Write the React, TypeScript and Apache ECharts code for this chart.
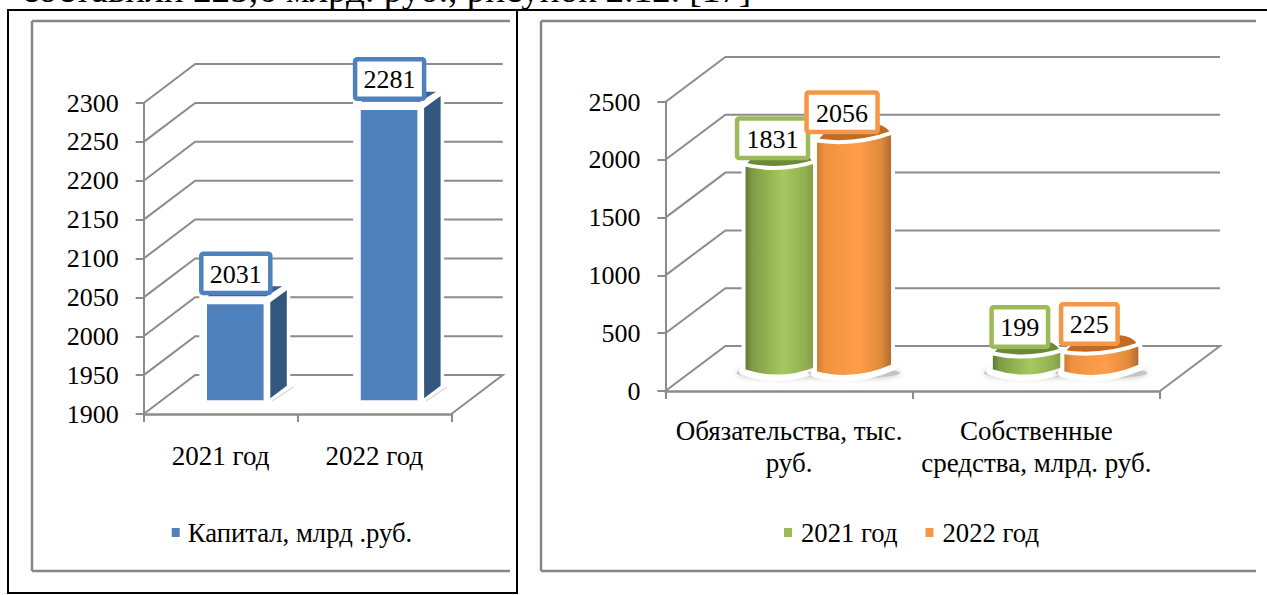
import React, { useEffect, useRef } from "react";
import * as echarts from "echarts";

const leftCategories = ["2021 год", "2022 год"];
const leftSeriesName = "Капитал, млрд .руб.";
const leftValues = [2031, 2281];
const leftTicks = [1900, 1950, 2000, 2050, 2100, 2150, 2200, 2250, 2300];

const rightCategories = ["Обязательства, тыс.\nруб.", "Собственные\nсредства, млрд. руб."];
const rightSeriesNames = ["2021 год", "2022 год"];
const rightValues2021 = [1831, 199];
const rightValues2022 = [2056, 225];
const rightTicks = [0, 500, 1000, 1500, 2000, 2500];

const pageText = "составили 225,6 млрд. руб., рисунок 2.12. [17]";

const FONT = '"Liberation Serif", "Times New Roman", serif';
const GRAY = "#868686";
const AXIS = "#8c8c8c";
const BLUE = "#4F81BD";
const GREEN = "#9BBB59";
const ORANGE = "#F79646";

function wallSeries(ticks: number[], gridIndex: number, dx: number, dy: number) {
  const min = Math.min(...ticks);
  return {
    type: "custom",
    name: "wall" + gridIndex,
    xAxisIndex: gridIndex,
    yAxisIndex: gridIndex,
    z: 1,
    silent: true,
    encode: { x: 0, y: 1 },
    data: ticks.map((t) => [0, t]),
    renderItem: (params: any, api: any) => {
      const v = api.value(1);
      const y = api.coord([0, v])[1];
      const x0 = params.coordSys.x;
      const x1 = x0 + params.coordSys.width;
      const pts: number[][] = [[x0, y], [x0 + dx, y + dy], [x1 + dx, y + dy]];
      if (v === min) pts.push([x1, y]);
      return {
        type: "polyline",
        shape: { points: pts },
        style: { stroke: AXIS, lineWidth: 2, fill: "none" },
      };
    },
  };
}

function boxLabel(cx: number, cy: number, w: number, h: number, text: string, color: string, z: number) {
  return [
    {
      type: "rect",
      z2: z,
      shape: { x: cx - w / 2 + 2, y: cy - h / 2 + 2, width: w - 4, height: h - 4, r: 2 },
      style: { fill: "#fff", stroke: color, lineWidth: 4.5 },
    },
    {
      type: "text",
      z2: z + 1,
      style: {
        text,
        x: cx,
        y: cy + 1,
        fill: "#000",
        fontSize: 26,
        fontFamily: FONT,
        align: "center",
        verticalAlign: "middle",
      },
    },
  ];
}

function prismSeries() {
  return {
    type: "custom",
    name: leftSeriesName,
    xAxisIndex: 0,
    yAxisIndex: 0,
    z: 3,
    itemStyle: { color: BLUE },
    encode: { x: 0, y: 1 },
    data: leftValues.map((v, i) => [i, v]),
    renderItem: (params: any, api: any) => {
      const i = api.value(0);
      const v = api.value(1);
      const [cx, yv] = api.coord([i, v]);
      const y0 = api.coord([i, leftTicks[0]])[1];
      const xc = cx + 14.7;
      const front = { x: xc - 28.3, y: yv - 7.8, width: 56.6, height: y0 - 13.7 - (yv - 7.8) };
      return {
        type: "group",
        children: [
          { type: "rect", shape: { x: xc - 36, y: yv - 18, width: 91, height: y0 - 10 - (yv - 18) }, style: { fill: "#fff" } },
          {
            type: "polygon",
            shape: { points: [[xc - 28, yv - 16], [xc + 31, yv - 16], [xc + 47, yv - 26], [xc - 12, yv - 26]] },
            style: { fill: "#376092" },
          },
          {
            type: "polygon",
            shape: { points: [[xc + 35, yv - 9.8], [xc + 51.5, yv - 21.8], [xc + 51.5, y0 - 28.3], [xc + 35, y0 - 15.7]] },
            style: { fill: "#34577F" },
          },
          { type: "rect", shape: front, style: { fill: BLUE } },
          {
            type: "line",
            shape: { x1: xc + 37, y1: y0 - 13, x2: xc + 58, y2: y0 - 27 },
            style: { stroke: "#d9d9d9", lineWidth: 1.5 },
          },
          ...boxLabel(cx + 15.2, yv - 38.8, 73, 43.4, String(v), BLUE, 10),
        ],
      };
    },
  };
}

function cylinderSeries(
  name: string,
  values: number[],
  color: string,
  offset: number,
  half: number,
  top: number[],
  bottom: number[],
  stops: string[],
  topColor: string,
  labelDx: number,
  labelZ: number
) {
  return {
    type: "custom",
    name,
    xAxisIndex: 1,
    yAxisIndex: 1,
    z: 3,
    itemStyle: { color },
    encode: { x: 0, y: 1 },
    data: values.map((v, i) => [i, v]),
    renderItem: (params: any, api: any) => {
      const i = api.value(0);
      const v = api.value(1);
      const [cx, yv] = api.coord([i, v]);
      const y0 = api.coord([i, 0])[1];
      const xc = cx + offset;
      const xl = xc - half;
      const xr = xc + half;
      const tL = yv + top[0];
      const tM = yv + top[1];
      const tR = yv + top[2];
      const bL = y0 + bottom[0];
      const bM = y0 + bottom[1];
      const bR = y0 + bottom[2];
      const ctrl = (a: number, m: number, b: number) => 2 * m - (a + b) / 2;
      const body =
        `M${xl - 2} ${tL - 1} Q${xc} ${ctrl(tL, tM, tR) - 2} ${xr + 2} ${tR - 1} ` +
        `L${xr + 2} ${bR + 1} Q${xc} ${ctrl(bL, bM, bR) + 2} ${xl - 2} ${bL + 1} Z`;
      const foot = `M${xl - 2} ${bL + 1} Q${xc} ${ctrl(bL, bM, bR) + 2} ${xr + 2} ${bR + 1}`;
      const cap =
        `M${xl} ${tL} C${xl + 6} ${tL - 20} ${xr - 6} ${tR - 20} ${xr} ${tR} ` +
        `Q${xc} ${ctrl(tL, tM, tR)} ${xl} ${tL} Z`;
      const fill = new echarts.graphic.LinearGradient(0, 0, 1, 0, [
        { offset: 0, color: stops[0] },
        { offset: 0.12, color: stops[1] },
        { offset: 0.55, color: stops[2] },
        { offset: 0.85, color: stops[3] },
        { offset: 1, color: stops[4] },
      ]);
      return {
        type: "group",
        children: [
          {
            type: "ellipse",
            shape: { cx: xc, cy: bM - 2, rx: half + 9, ry: 5 },
            style: { fill: "#c4c4c4", shadowBlur: 6, shadowColor: "#bdbdbd" },
          },
          {
            type: "path",
            shape: { pathData: foot },
            style: { fill: "none", stroke: "#fff", lineWidth: 9, lineCap: "round" },
          },
          { type: "path", shape: { pathData: cap }, style: { fill: topColor, stroke: "#fff", lineWidth: 2 } },
          {
            type: "path",
            shape: { pathData: body },
            style: { fill, stroke: "#fff", lineWidth: 4 },
          },
          ...boxLabel(
            xc + labelDx,
            yv - 41,
            String(v).length > 3 ? 75 : 60.5,
            43.5,
            String(v),
            color,
            labelZ
          ),
        ],
      };
    },
  };
}

function valueAxis(ticks: number[], gridIndex: number) {
  return {
    type: "value",
    gridIndex,
    min: ticks[0],
    max: ticks[ticks.length - 1],
    interval: ticks[1] - ticks[0],
    axisLine: { show: true, lineStyle: { color: AXIS, width: 2 } },
    axisTick: { show: true, length: 8, lineStyle: { color: AXIS, width: 2 } },
    splitLine: { show: false },
    axisLabel: {
      color: "#000",
      fontSize: 26,
      fontFamily: FONT,
      margin: 25,
      padding: [12, 0, 0, 0],
      formatter: (v: number) => String(v),
    },
  };
}

function categoryAxis(categories: string[], gridIndex: number, margin: number) {
  return {
    type: "category",
    gridIndex,
    data: categories,
    axisLine: { show: true, lineStyle: { color: AXIS, width: 2.5 } },
    axisTick: { show: true, length: 8, lineStyle: { color: AXIS, width: 2 } },
    axisLabel: {
      color: "#000",
      fontSize: 27,
      fontFamily: FONT,
      margin,
      lineHeight: 32,
      interval: 0,
    },
  };
}

function frameLine(x1: number, y1: number, x2: number, y2: number, stroke: string, lineWidth: number) {
  return { type: "line", silent: true, shape: { x1, y1, x2, y2 }, style: { stroke, lineWidth } };
}

export default function App() {
  const ref = useRef<HTMLDivElement>(null);
  useEffect(() => {
    const chart = echarts.init(ref.current!, null, { renderer: "svg" });
    chart.setOption({
      animation: false,
      backgroundColor: "#fff",
      grid: [
        { left: 143.7, top: 103, width: 307.6, height: 311 },
        { left: 665.4, top: 102, width: 494.6, height: 289 },
      ],
      xAxis: [categoryAxis(leftCategories, 0, 26), categoryAxis(rightCategories, 1, 24)],
      yAxis: [valueAxis(leftTicks, 0), valueAxis(rightTicks, 1)],
      legend: [
        {
          left: 166.7,
          top: 514,
          data: [{ name: leftSeriesName, icon: "rect" }],
          itemWidth: 8,
          itemHeight: 9,
          selectedMode: false,
          textStyle: { color: "#000", fontSize: 26.7, fontFamily: FONT, padding: [0, 0, 0, 3] },
        },
        {
          left: 779,
          top: 514,
          data: rightSeriesNames.map((name) => ({ name, icon: "rect" })),
          itemWidth: 8,
          itemHeight: 9,
          itemGap: 28,
          selectedMode: false,
          textStyle: { color: "#000", fontSize: 26.7, fontFamily: FONT, padding: [0, 0, 0, 4] },
        },
      ],
      series: [
        wallSeries(leftTicks, 0, 51.5, -39),
        wallSeries(rightTicks, 1, 60, -45),
        prismSeries(),
        cylinderSeries(
          rightSeriesNames[0],
          rightValues2021,
          GREEN,
          -9.5,
          34,
          [-14, -10, -17],
          [-21, -16, -23],
          ["#54702c", "#7f9c46", "#a6c860", "#93b052", "#7d9a45"],
          "#6b8a3a",
          -7,
          10
        ),
        cylinderSeries(
          rightSeriesNames[1],
          rightValues2022,
          ORANGE,
          65,
          37,
          [-12, -10.5, -20],
          [-19, -16, -26],
          ["#c9762f", "#ee9240", "#ff9e4a", "#e08a3d", "#a8662c"],
          "#c06a25",
          -12,
          20
        ),
      ],
      graphic: [
        {
          type: "text",
          silent: true,
          style: {
            text: pageText,
            x: 22,
            y: -29,
            fill: "#000",
            fontSize: 37.2,
            fontFamily: FONT,
          },
        },
        frameLine(8, 10, 1267, 10, "#000", 2),
        frameLine(8, 9, 8, 594, "#000", 2),
        frameLine(517, 9, 517, 594, "#000", 2),
        frameLine(8, 593, 517, 593, "#000", 2),
        frameLine(32, 21, 510, 21, GRAY, 2.5),
        frameLine(32, 21, 32, 571, GRAY, 2.5),
        frameLine(32, 571, 510, 571, GRAY, 2.5),
        frameLine(541, 21, 1256, 21, GRAY, 2.5),
        frameLine(541, 21, 541, 571, GRAY, 2.5),
        frameLine(541, 571, 1256, 571, GRAY, 2.5),
      ],
    });
    return () => chart.dispose();
  }, []);
  return (
    <div
      ref={ref}
      style={{ position: "absolute", left: 0, top: 0, width: 1267, height: 595, overflow: "hidden" }}
    />
  );
}
